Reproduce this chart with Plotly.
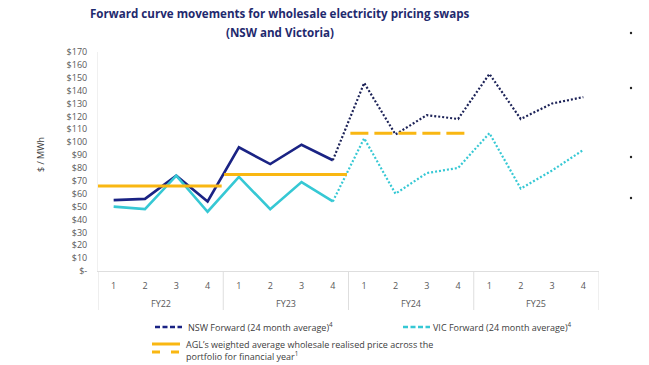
import plotly.graph_objects as go

# ---- data ----
years = ["FY22", "FY23", "FY24", "FY25"]
quarters = ["1", "2", "3", "4"]
nsw_forward = [55, 56, 74, 54, 96, 83, 98, 86, 146, 106, 121, 118, 153, 118, 130, 135]
vic_forward = [50, 48, 74, 46, 73, 48, 69, 54, 103, 60, 76, 80, 107, 64, 78, 94]
agl_years = ["FY22", "FY23", "FY24"]
agl_price = [66, 75, 107]
agl_style = ["solid", "solid", "dash"]
y_ticks = list(range(0, 171, 10))
y_ticktext = ["$-" if v == 0 else f"${v}" for v in y_ticks]

# ---- layout helpers (page body has an 8px margin) ----
OFF = 8
W, H = 649 - OFF, 365 - OFF
L, R, T, B = 90, 50, 44, 94
pw, ph = W - L - R, H - T - B
def px(x_ref):
    return (x_ref - OFF - L) / pw
def py(y_ref):
    return (H - B - (y_ref - OFF)) / ph

NAVY = "#1a2384"
NAVY_DOT = "#1d2358"
CYAN = "#36c8d4"
GOLD = "#f9b712"
GREY = "#595959"
TXT = "#404040"
FONT = "Open Sans"

n = len(nsw_forward)
xs = list(range(n))
split = 7  # last actual quarter (solid) -> forward (dotted)

fig = go.Figure()
fig.add_trace(go.Scatter(x=xs[:split + 1], y=nsw_forward[:split + 1], mode="lines",
                         line=dict(color=NAVY, width=2.6), showlegend=False, hoverinfo="skip"))
fig.add_trace(go.Scatter(x=xs[:split + 1], y=vic_forward[:split + 1], mode="lines",
                         line=dict(color=CYAN, width=2.6), showlegend=False, hoverinfo="skip"))
fig.add_trace(go.Scatter(x=xs[split:], y=nsw_forward[split:], mode="lines",
                         line=dict(color=NAVY_DOT, width=2.2, dash="2px,2px"), showlegend=False, hoverinfo="skip"))
fig.add_trace(go.Scatter(x=xs[split:], y=vic_forward[split:], mode="lines",
                         line=dict(color=CYAN, width=2.2, dash="2px,2px"), showlegend=False, hoverinfo="skip"))

for fy, v, st in zip(agl_years, agl_price, agl_style):
    k = years.index(fy)
    x0 = 4 * k - 0.5 + (0.0 if k == 0 else 0.03 * k)
    x1 = 4 * k + 3.5 - (0.05 if k < 2 else 0.2)
    fig.add_trace(go.Scatter(x=[x0, x1], y=[v, v], mode="lines",
                             line=dict(color=GOLD, width=3, dash=("18px,6px" if st == "dash" else "solid")),
                             showlegend=False, hoverinfo="skip"))

fig.update_layout(
    width=W, height=H,
    margin=dict(l=L, r=R, t=T, b=B, autoexpand=False),
    paper_bgcolor="white", plot_bgcolor="white",
    font=dict(family=FONT, size=9, color=GREY),
    showlegend=False,
    xaxis=dict(range=[-0.5, n - 0.5], tickvals=xs, ticktext=quarters * len(years),
               showgrid=False, zeroline=False, showline=True, linecolor="#dedede", linewidth=1,
               ticks="", ticklabelstandoff=6, tickfont=dict(size=9, color=GREY)),
    yaxis=dict(range=[0, 170], tickvals=y_ticks, ticktext=y_ticktext, showgrid=False, zeroline=False,
               showline=True, linecolor="#f0f0f0", ticks="", ticklabelstandoff=8,
               tickfont=dict(size=9, color=GREY)),
)

ann = []
ann.append(dict(text="<b>Forward curve movements for wholesale electricity pricing swaps</b>",
                xref="paper", yref="paper", x=px(280), y=py(14), xanchor="center", yanchor="middle",
                showarrow=False, font=dict(family=FONT, size=11.6, color="#1f2a6e")))
ann.append(dict(text="<b>(NSW and Victoria)</b>",
                xref="paper", yref="paper", x=px(280), y=py(32), xanchor="center", yanchor="middle",
                showarrow=False, font=dict(family=FONT, size=11.6, color="#1f2a6e")))
ann.append(dict(text="$ / MWh", textangle=-90, xref="paper", yref="paper", x=px(40), y=py(155),
                xanchor="center", yanchor="middle", showarrow=False, font=dict(size=9, color=TXT)))
# fiscal year group labels
for k, fy in enumerate(years):
    ann.append(dict(text=fy, xref="x", yref="paper", x=4 * k + 1.5, y=py(303), xanchor="center",
                    yanchor="middle", showarrow=False, font=dict(size=9, color=GREY)))
# legend texts
ann.append(dict(text="NSW Forward (24 month average)<sup>4</sup>", xref="paper", yref="paper",
                x=px(186), y=py(327), xanchor="left", yanchor="middle", showarrow=False,
                font=dict(size=9, color=TXT)))
ann.append(dict(text="VIC Forward (24 month average)<sup>4</sup>", xref="paper", yref="paper",
                x=px(431), y=py(327), xanchor="left", yanchor="middle", showarrow=False,
                font=dict(size=9, color=TXT)))
ann.append(dict(text="AGL\u2019s weighted average wholesale realised price across the<br>portfolio for financial year<sup>1</sup>",
                xref="paper", yref="paper", x=px(184), y=py(350), xanchor="left", yanchor="middle",
                align="left", showarrow=False, font=dict(size=9, color=TXT)))
fig.update_layout(annotations=ann)

shapes = []
def seg(x0, x1, y, color, dash, width):
    shapes.append(dict(type="line", xref="paper", yref="paper", x0=px(x0), x1=px(x1), y0=py(y), y1=py(y),
                       line=dict(color=color, width=width, dash=dash)))
seg(155, 182, 327, NAVY, "5px,2.5px", 2.4)
seg(403, 430, 327, CYAN, "5px,2.5px", 2.4)
seg(152, 180, 344, GOLD, "solid", 3)
seg(152, 180, 352, GOLD, "8px,11px", 3)
# group dividers of the category table
for k in range(len(years) + 1):
    shapes.append(dict(type="line", xref="x", yref="paper", x0=4 * k - 0.5, x1=4 * k - 0.5,
                       y0=0, y1=py(310), line=dict(color="#dedede", width=1)))
# slide bullet dots at right edge
for yy in [33, 88, 157, 198]:
    shapes.append(dict(type="circle", xref="paper", yref="paper", x0=px(629.8), x1=px(632.2),
                       y0=py(yy - 1.2), y1=py(yy + 1.2), fillcolor="#222222", line=dict(width=0)))
fig.update_layout(shapes=shapes)

fig.write_html("out.html")
